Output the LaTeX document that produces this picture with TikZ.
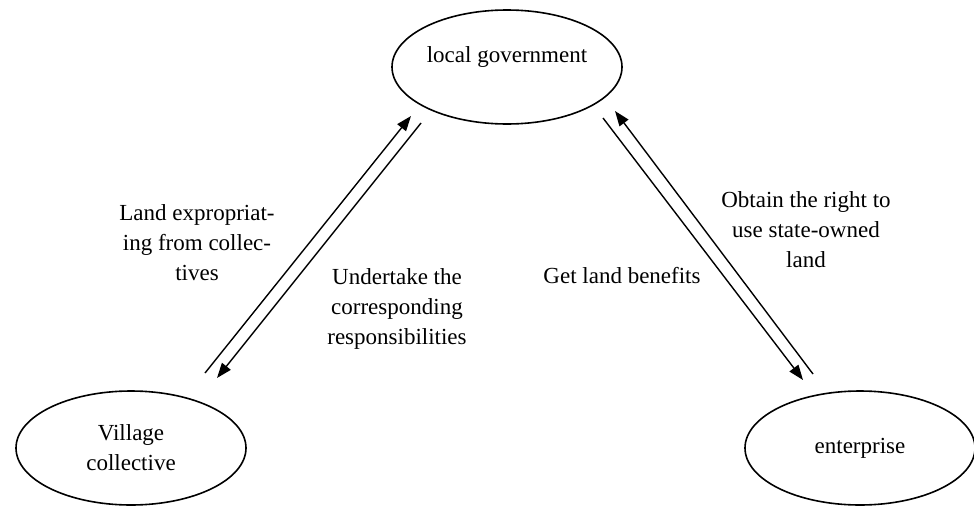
\documentclass[tikz,border=0pt]{standalone}
\usepackage{fontspec}
\setmainfont{Liberation Serif}
\usetikzlibrary{arrows.meta,shapes.geometric}

\begin{document}
\begin{tikzpicture}[x=1pt,y=-1pt,>={Triangle[length=15pt,width=11pt]},
  font=\fontsize{23}{30}\selectfont,
  party/.style={draw,ellipse,line width=1.6pt,minimum width=230pt,minimum height=114pt,align=center,inner sep=0pt},
  flow/.style={->,line width=1.4pt},
  note/.style={align=center,inner sep=0pt}]
\useasboundingbox (0,0) rectangle (974,506);
\node[party,text depth=25pt] (gov) at (507,67) {local government};
\node[party] (vil) at (131,448) {Village\\collective};
\node[party] (ent) at (860,448) {enterprise};
\coordinate (vil-a) at (205,373);
\coordinate (gov-a) at (411,116);
\coordinate (gov-b) at (421,123);
\coordinate (vil-b) at (217,378);
\coordinate (gov-c) at (603,118);
\coordinate (ent-c) at (803,380);
\coordinate (ent-d) at (813,374);
\coordinate (gov-d) at (615,111);
\draw[flow] (vil-a) -- (gov-a);
\draw[flow] (gov-b) -- (vil-b);
\draw[flow] (gov-c) -- (ent-c);
\draw[flow] (ent-d) -- (gov-d);
\node[note] (expro) at (197,243) {Land expropriat-\\ing from collec-\\tives};
\node[note] (duty) at (397,309) {Undertake the\\corresponding\\responsibilities};
\node[note] (gain) at (622,276) {Get land benefits};
\node[note] (right) at (806,230) {Obtain the right to\\use state-owned\\land};
\end{tikzpicture}
\end{document}
